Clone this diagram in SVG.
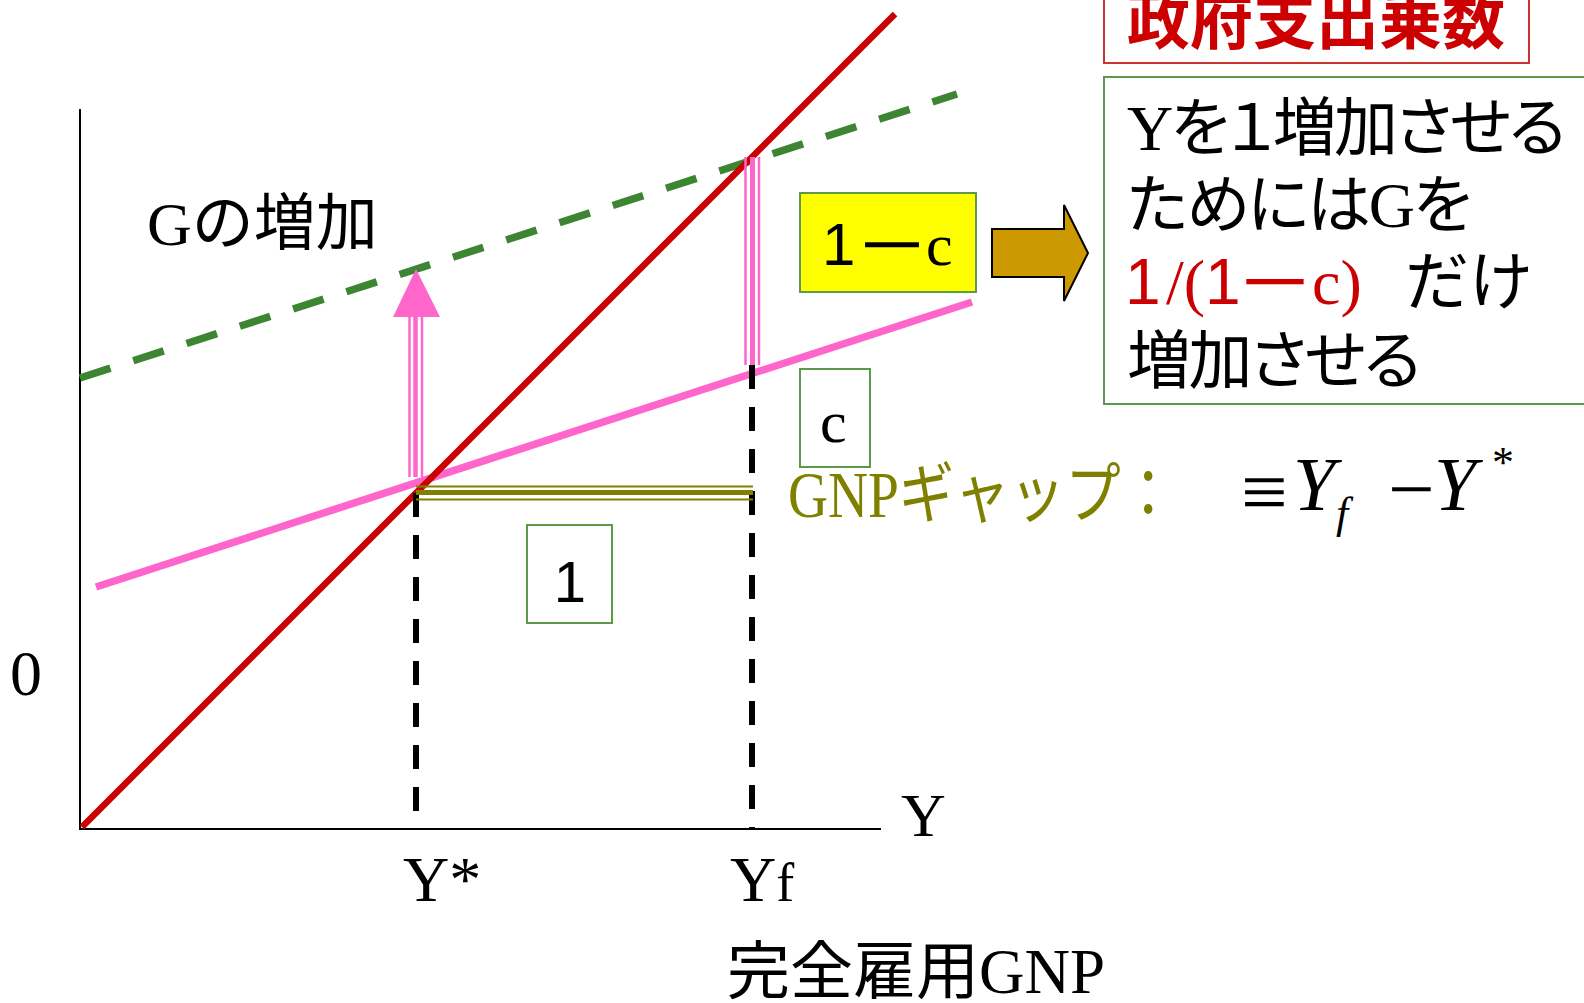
<svg xmlns="http://www.w3.org/2000/svg" width="1584" height="1003" viewBox="0 0 1584 1003">
<style>
.serif{font-family:"Liberation Serif","Noto Sans CJK JP",serif}
.sans{font-family:"Liberation Sans","Noto Sans CJK JP",sans-serif}
.cjk{font-family:"Noto Sans CJK JP",sans-serif}
.jp{font-family:"Liberation Serif","Noto Sans CJK JP",sans-serif;font-feature-settings:"palt"}
.box{fill:none;stroke:#5b9a4a;stroke-width:2}
.axis{stroke:#000;stroke-width:2;fill:none}
.vdash{stroke:#000;stroke-width:6;stroke-dasharray:24 18;fill:none}
.bar{stroke-width:2.5}
</style>
<rect width="1584" height="1003" fill="#fff"/>
<g id="axes">
<line class="axis" x1="80" y1="109" x2="80" y2="830"/>
<line class="axis" x1="79" y1="829" x2="881" y2="829"/>
</g>
<g id="connectors">
<line id="g-line" x1="80" y1="378" x2="957" y2="94" stroke="#3d8533" stroke-width="7.5" stroke-dasharray="32 24"/>
<line id="c-line" x1="96" y1="587" x2="972" y2="302" stroke="#ff66cc" stroke-width="7.5"/>
<line id="y-line" x1="82" y1="827" x2="895" y2="14" stroke="#cc0000" stroke-width="6.5"/>
<line class="vdash" x1="416" y1="493" x2="416" y2="830"/>
<line class="vdash" x1="752" y1="365" x2="752" y2="830"/>
<g id="arrow-up" stroke="#ff66cc">
<line x1="409.5" y1="317" x2="409.5" y2="477" stroke-width="2.5"/>
<line x1="415.5" y1="317" x2="415.5" y2="477" stroke-width="4.5"/>
<line x1="422" y1="317" x2="422" y2="477" stroke-width="2.5"/>
<polygon points="416,269 393,317 440,317" fill="#ff66cc" stroke="none"/>
</g>
<g id="yf-bar" stroke="#ff66cc">
<line x1="745.5" y1="157" x2="745.5" y2="365" stroke-width="2.5"/>
<line x1="752.5" y1="157" x2="752.5" y2="365" stroke-width="5"/>
<line x1="759" y1="157" x2="759" y2="365" stroke-width="2.5"/>
</g>
<g id="gap-bar" stroke="#808000">
<line x1="416" y1="486.5" x2="753" y2="486.5" stroke-width="2"/>
<line x1="416" y1="492.5" x2="753" y2="492.5" stroke-width="5"/>
<line x1="416" y1="499.5" x2="753" y2="499.5" stroke-width="2"/>
</g>
<polygon id="big-arrow" points="992,229 1064,229 1064,205 1088,253 1064,301 1064,277 992,277" fill="#cc9900" stroke="#000" stroke-width="2"/>
</g>
<g id="label-zero"><text class="serif" x="10" y="695" font-size="64">0</text></g>
<g id="label-y"><text class="serif" x="901" y="836" font-size="62">Y</text></g>
<g id="label-ystar"><text class="serif" x="403" y="901" font-size="64">Y*</text></g>
<g id="label-yf"><text class="serif" x="730" y="901" font-size="64">Y<tspan font-size="54">f</tspan></text></g>
<g id="label-fullgnp"><text class="serif" x="727" y="993" font-size="63">完全雇用GNP</text></g>
<g id="label-g"><text class="serif" x="147" y="245" font-size="62">Gの増加</text></g>
<g id="box-1c">
<rect x="800" y="193" width="176" height="99" fill="#ffff00" stroke="#5b9a4a" stroke-width="2"/>
<text font-size="60"><tspan class="sans" x="822" y="265">1</tspan><tspan class="cjk bar" x="862" y="268" stroke="#000">―</tspan><tspan class="serif" x="926" y="265">c</tspan></text>
</g>
<g id="box-c">
<rect class="box" x="800" y="369" width="70" height="98"/>
<text class="serif" x="820" y="442" font-size="60">c</text>
</g>
<g id="box-1">
<rect class="box" x="527" y="525" width="85" height="98"/>
<text class="sans" x="570" y="602" font-size="58" text-anchor="middle">1</text>
</g>
<g id="label-gap">
<text class="serif" x="788" y="517" font-size="66" fill="#808000" textLength="388" lengthAdjust="spacingAndGlyphs">GNPギャップ：</text>
</g>
<g id="formula" class="serif">
<text x="1241" y="520" font-size="83">≡</text>
<text x="1293" y="510" font-size="76" font-style="italic">Y</text>
<text x="1336" y="528" font-size="44" font-style="italic">f</text>
<text x="1388" y="517" font-size="83">−</text>
<text x="1434" y="510" font-size="76" font-style="italic">Y</text>
<text x="1492" y="477" font-size="44">*</text>
</g>
<g id="title-box">
<rect x="1104" y="-20" width="425" height="83" fill="none" stroke="#cc3333" stroke-width="2"/>
<text class="cjk" x="1127" y="43" font-size="63" font-weight="700" fill="#cc0000">政府支出乗数</text>
</g>
<g id="explain-box">
<rect x="1104" y="77" width="500" height="327" fill="none" stroke="#5b9a4a" stroke-width="2"/>
<text class="jp" x="1127" y="150" font-size="64" textLength="439" lengthAdjust="spacing">Yを１増加させる</text>
<text class="jp" x="1127" y="227" font-size="64" textLength="345" lengthAdjust="spacing">ためにはGを</text>
<text font-size="64"><tspan class="sans" x="1125" y="304" fill="#cc0000">1</tspan><tspan class="serif" x="1166" y="304" fill="#cc0000">/(</tspan><tspan class="sans" x="1205" y="304" fill="#cc0000">1</tspan><tspan class="cjk bar" x="1243" y="306" fill="#cc0000" stroke="#cc0000">―</tspan><tspan class="serif" x="1312" y="304" fill="#cc0000">c)</tspan><tspan class="cjk" x="1405" y="304">だけ</tspan></text>
<text class="jp" x="1127" y="383" font-size="64" textLength="294" lengthAdjust="spacing">増加させる</text>
</g>
</svg>
